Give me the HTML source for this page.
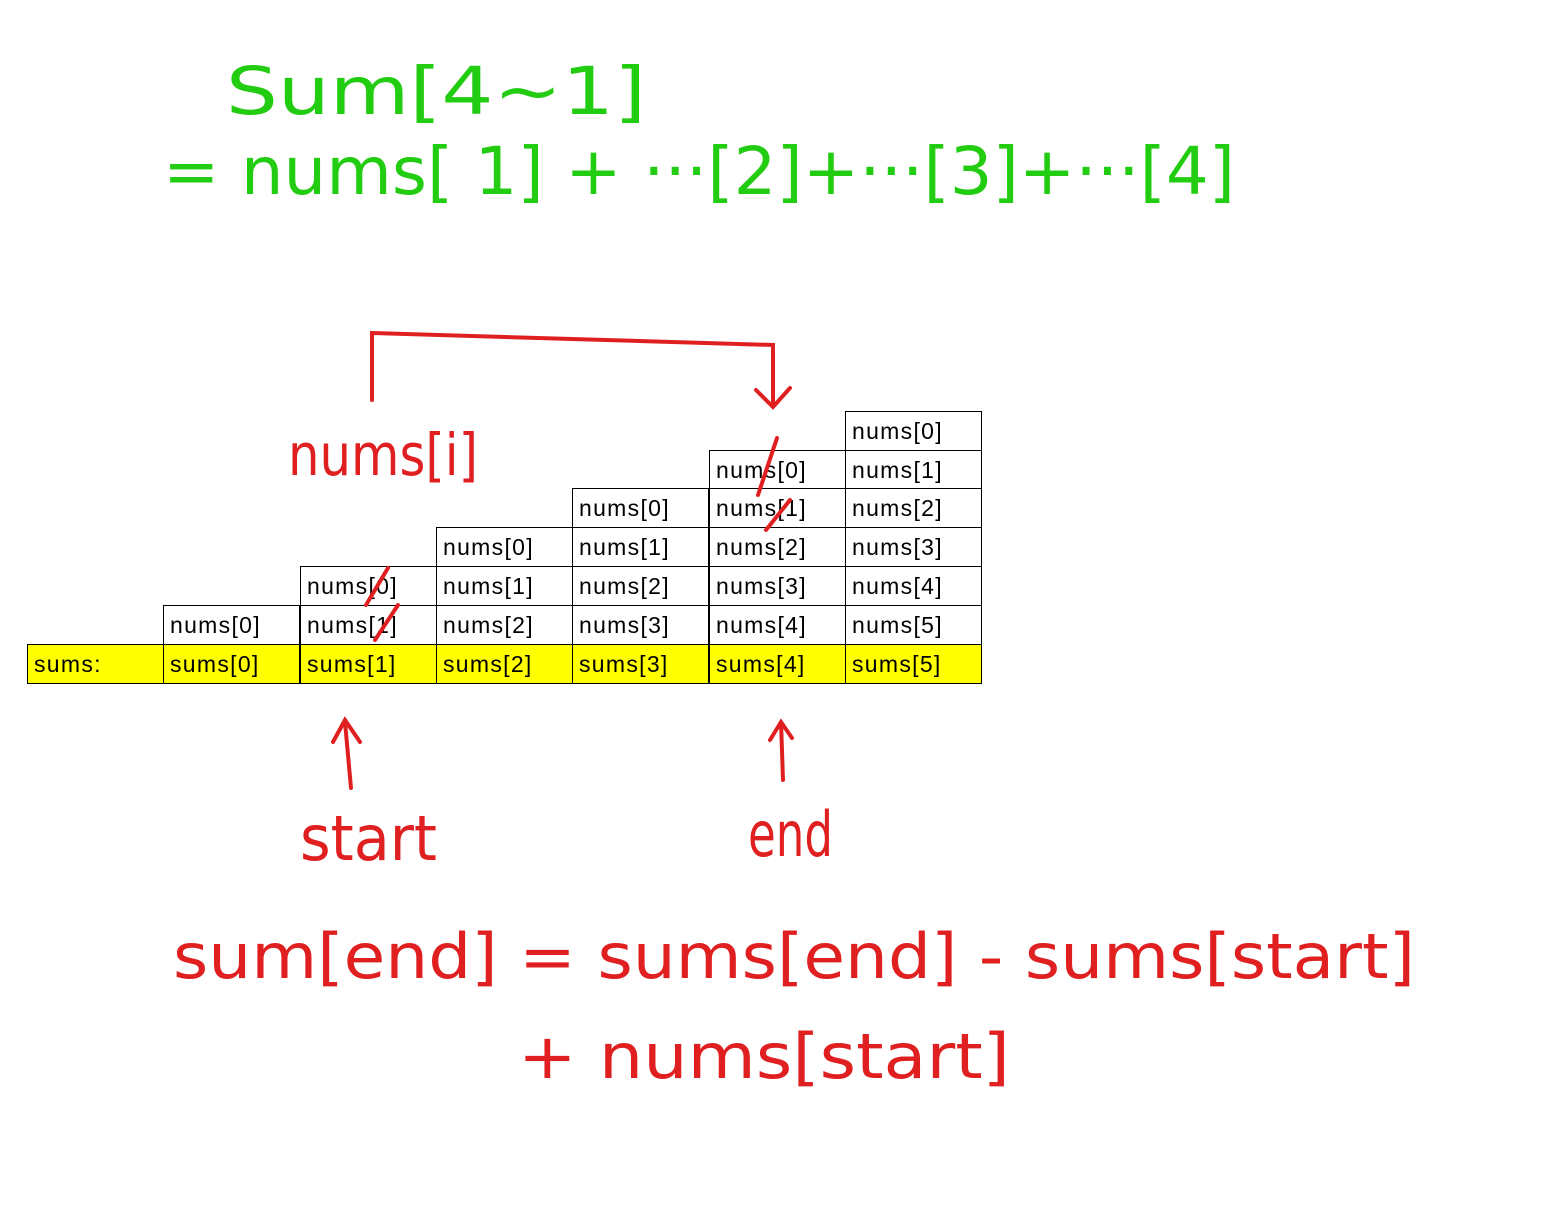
<!DOCTYPE html>
<html><head><meta charset="utf-8"><style>
html,body{margin:0;padding:0;background:#fff;width:1562px;height:1210px;overflow:hidden}
.c{position:absolute;box-sizing:border-box;border:1px solid #000;width:137.4px;height:39.8px;font-family:"Liberation Sans",sans-serif;font-size:23px;letter-spacing:1.3px;line-height:38px;padding-left:6px;color:#000;background:#fff}
.y{background:#ffff00}
svg{position:absolute;left:0;top:0}
</style></head><body>
<div class="c" style="left:845px;top:411px">nums[0]</div>
<div class="c" style="left:709px;top:450px">nums[0]</div><div class="c" style="left:845px;top:450px">nums[1]</div>
<div class="c" style="left:572px;top:488px">nums[0]</div><div class="c" style="left:709px;top:488px">nums[1]</div><div class="c" style="left:845px;top:488px">nums[2]</div>
<div class="c" style="left:436px;top:527px">nums[0]</div><div class="c" style="left:572px;top:527px">nums[1]</div><div class="c" style="left:709px;top:527px">nums[2]</div><div class="c" style="left:845px;top:527px">nums[3]</div>
<div class="c" style="left:300px;top:566px">nums[0]</div><div class="c" style="left:436px;top:566px">nums[1]</div><div class="c" style="left:572px;top:566px">nums[2]</div><div class="c" style="left:709px;top:566px">nums[3]</div><div class="c" style="left:845px;top:566px">nums[4]</div>
<div class="c" style="left:163px;top:605px">nums[0]</div><div class="c" style="left:300px;top:605px">nums[1]</div><div class="c" style="left:436px;top:605px">nums[2]</div><div class="c" style="left:572px;top:605px">nums[3]</div><div class="c" style="left:709px;top:605px">nums[4]</div><div class="c" style="left:845px;top:605px">nums[5]</div>
<div class="c y" style="left:27px;top:644px">sums:</div><div class="c y" style="left:163px;top:644px">sums[0]</div><div class="c y" style="left:300px;top:644px">sums[1]</div><div class="c y" style="left:436px;top:644px">sums[2]</div><div class="c y" style="left:572px;top:644px">sums[3]</div><div class="c y" style="left:709px;top:644px">sums[4]</div><div class="c y" style="left:845px;top:644px">sums[5]</div>
<svg width="1562" height="1210" font-family="DejaVu Sans, sans-serif">
<g fill="#22cc11">
<text x="226" y="114" font-size="66" textLength="420" lengthAdjust="spacingAndGlyphs">Sum[4~1]</text>
<text x="163" y="194" font-size="66" textLength="1072" lengthAdjust="spacingAndGlyphs">= nums[ 1] + ···[2]+···[3]+···[4]</text>
</g>
<g fill="#e02020">
<text x="288" y="475" font-size="58" textLength="190" lengthAdjust="spacingAndGlyphs">nums[i]</text>
<text x="300" y="860" font-size="62" textLength="137" lengthAdjust="spacingAndGlyphs">start</text>
<text x="748" y="856" font-size="62" textLength="85" lengthAdjust="spacingAndGlyphs">end</text>
<text x="173" y="978" font-size="62" textLength="1242" lengthAdjust="spacingAndGlyphs">sum[end] = sums[end] - sums[start]</text>
<text x="518" y="1078" font-size="62" textLength="492" lengthAdjust="spacingAndGlyphs">+ nums[start]</text>
</g>
<g stroke="#e02020" stroke-width="4" fill="none" stroke-linecap="round">
<path d="M372 400 L372 333 L773 345 L773 405"/>
<path d="M756 390 L773 407 L790 388"/>
<path d="M351 788 L345 722 M333 742 L345 720 L360 742"/>
<path d="M783 780 L781 722 M770 740 L781 722 L792 738"/>
<path d="M777 438 L758 495 M790 500 L766 530 M388 568 L366 605 M398 605 L375 640"/>
</g>
</svg>
</body></html>
